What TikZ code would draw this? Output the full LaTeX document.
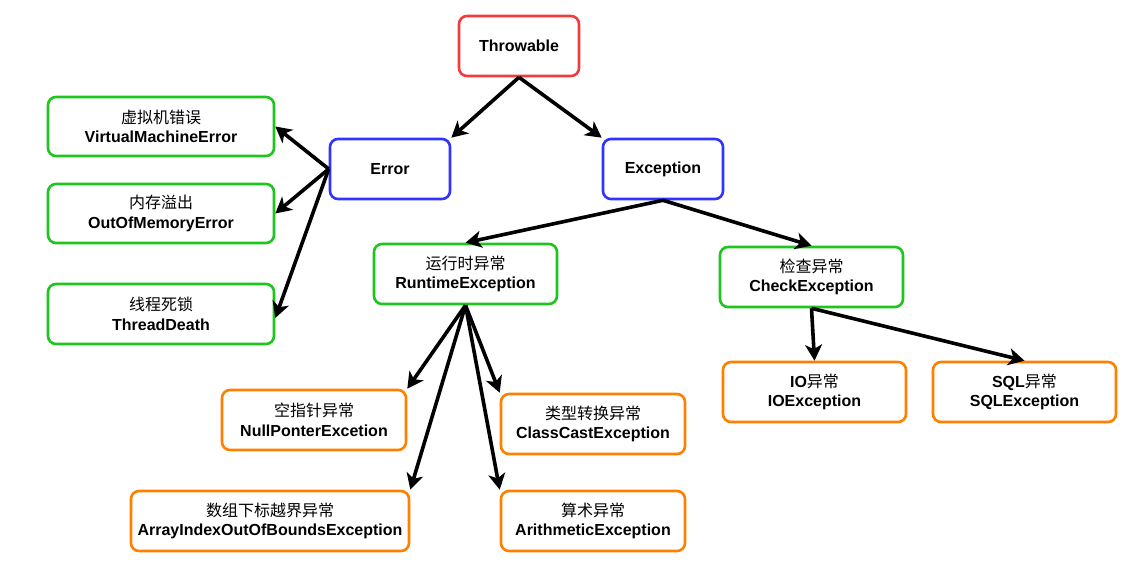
\documentclass[tikz,border=0pt]{standalone}
\usepackage{fontspec}
\setmainfont{Liberation Sans}
\newfontfamily\cjk{Noto Sans CJK SC}
\usetikzlibrary{arrows.meta}
\definecolor{cred}{HTML}{F03C3C}
\definecolor{cblue}{HTML}{3333FF}
\definecolor{cgreen}{HTML}{1DC51D}
\definecolor{corange}{HTML}{FF8000}
\tikzset{
  box/.style={draw, line width=2.6pt, rounded corners=8pt, fill=white, inner sep=0pt,
    align=center, font=\fontsize{16}{19.5}\selectfont\bfseries},
  redbox/.style={box, draw=cred},
  bluebox/.style={box, draw=cblue},
  greenbox/.style={box, draw=cgreen},
  orangebox/.style={box, draw=corange},
  arr/.style={draw=black, line width=3.6pt, -{Stealth[length=16pt, width=17pt, inset=4.5pt]}},
}
\begin{document}
\begin{tikzpicture}[x=1pt, y=-1pt]
\useasboundingbox (0,0) rectangle (1130,564);
\node[redbox, minimum width=120pt, minimum height=60pt] (thr) at (519,46) {Throwable};
\node[bluebox, minimum width=120pt, minimum height=60pt] (err) at (390,169) {Error};
\node[bluebox, minimum width=120pt, minimum height=60pt] (exc) at (663,169) {Exception};
\node[greenbox, minimum width=226pt, minimum height=59pt] (vme) at (161,126.5) {{\cjk\mdseries 虚拟机错误}\\VirtualMachineError};
\node[greenbox, minimum width=226pt, minimum height=59pt] (oom) at (161,213.5) {{\cjk\mdseries 内存溢出}\\OutOfMemoryError};
\node[greenbox, minimum width=226pt, minimum height=60pt] (thd) at (161,314) {{\cjk\mdseries 线程死锁}\\ThreadDeath};
\node[greenbox, minimum width=183pt, minimum height=60pt] (rte) at (465.5,274) {{\cjk\mdseries 运行时异常}\\RuntimeException};
\node[greenbox, minimum width=183pt, minimum height=60pt] (chk) at (811.5,277) {{\cjk\mdseries 检查异常}\\CheckException};
\node[orangebox, minimum width=184pt, minimum height=60pt] (npe) at (314,420) {{\cjk\mdseries 空指针异常}\\NullPonterExcetion};
\node[orangebox, minimum width=184pt, minimum height=60pt] (cce) at (593,424) {{\cjk\mdseries 类型转换异常}\\ClassCastException};
\node[orangebox, minimum width=278pt, minimum height=60pt] (aio) at (270,521) {{\cjk\mdseries 数组下标越界异常}\\ArrayIndexOutOfBoundsException};
\node[orangebox, minimum width=184pt, minimum height=60pt] (ari) at (593,521) {{\cjk\mdseries 算术异常}\\ArithmeticException};
\node[orangebox, minimum width=183pt, minimum height=60pt] (ioe) at (814.5,392) {IO{\cjk\mdseries 异常}\\IOException};
\node[orangebox, minimum width=183pt, minimum height=60pt] (sql) at (1024.5,392) {SQL{\cjk\mdseries 异常}\\SQLException};

\draw[arr] (thr.south) -- (err.north east);
\draw[arr] (thr.south) -- (exc.north west);
\draw[arr] (err.west) -- (vme.east);
\draw[arr] (err.west) -- (oom.east);
\draw[arr] (err.west) -- ([yshift=-4pt]thd.east);
\draw[arr] (exc.south) -- (rte.north);
\draw[arr] (exc.south) -- (chk.north);
\draw[arr] (rte.south) -- (npe.north east);
\draw[arr] (rte.south) -- (aio.north east);
\draw[arr] (rte.south) -- (cce.north west);
\draw[arr] (rte.south) -- (ari.north west);
\draw[arr] (chk.south) -- (ioe.north);
\draw[arr] (chk.south) -- (sql.north);
\end{tikzpicture}
\end{document}
